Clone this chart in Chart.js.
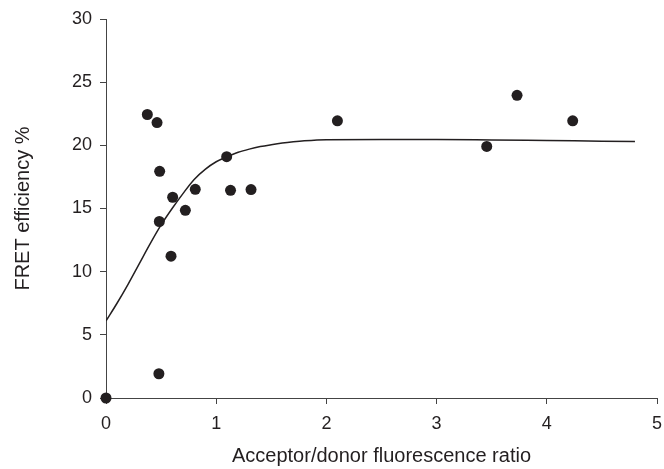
<!DOCTYPE html>
<html>
<head>
<meta charset="utf-8">
<script src="https://cdn.jsdelivr.net/npm/chart.js@4/dist/chart.umd.min.js"></script>
<style>
  body { margin: 0; background: #fff; }
  #wrap { width: 664px; height: 469px; }
</style>
</head>
<body>
<div id="wrap"><canvas id="fretChart" width="664" height="469"></canvas></div>
<script>
// measured points (acceptor/donor ratio vs FRET efficiency)
const ratioX = [0, 0.375, 0.463, 0.487, 0.484, 0.48, 0.59, 0.605, 0.72, 0.81, 1.095, 1.13, 1.316, 2.10, 3.455, 3.73, 4.235];
const fretY = [0, 22.44, 21.8, 17.94, 13.97, 1.92, 11.23, 15.89, 14.86, 16.52, 19.1, 16.44, 16.5, 21.94, 19.91, 23.96, 21.94];

// fitted curve
const fitX = [0, 0.1, 0.2, 0.3, 0.4, 0.5, 0.6, 0.7, 0.8, 0.9, 1.0, 1.1, 1.2, 1.3, 1.4, 1.5, 1.6, 1.7, 1.8, 2.0, 2.5, 3.0, 3.5, 4.0, 4.5, 4.8];
const fitY = [6.1, 7.5, 9.0, 10.6, 12.2, 13.7, 15.0, 16.2, 17.3, 18.1, 18.7, 19.1, 19.45, 19.7, 19.9, 20.05, 20.18, 20.28, 20.36, 20.45, 20.47, 20.47, 20.43, 20.38, 20.33, 20.3];

const xTicks = [0, 1, 2, 3, 4, 5];
const yTicks = [0, 5, 10, 15, 20, 25, 30];

const ink = "#231f20";
const axisColor = "#444";
const font = "'Liberation Sans', Arial, sans-serif";

const ctx = document.getElementById("fretChart").getContext("2d");
const fretChart = new Chart(ctx, {
  type: "scatter",
  data: {
    datasets: [
      {
        label: "data",
        data: ratioX.map((x, i) => ({ x: x, y: fretY[i] })),
        backgroundColor: ink,
        borderColor: ink,
        pointRadius: 5.5,
        pointBorderWidth: 0,
        clip: false,
      },
      {
        label: "fit",
        data: fitX.map((x, i) => ({ x: x, y: fitY[i] })),
        showLine: true,
        borderColor: ink,
        borderWidth: 1.5,
        pointRadius: 0,
        cubicInterpolationMode: "monotone",
        fill: false,
      },
    ],
  },
  options: {
    responsive: false,
    animation: false,
    layout: { padding: { left: 0, right: 7, top: 19, bottom: 0 } },
    plugins: { legend: { display: false }, tooltip: { enabled: false } },
    scales: {
      x: {
        type: "linear",
        min: 0,
        max: 5,
        afterBuildTicks: (s) => { s.ticks = xTicks.map((v) => ({ value: v })); },
        afterFit: (s) => { s.height = 71; s.paddingLeft = 0; s.paddingRight = 0; },
        grid: { drawOnChartArea: false, drawTicks: true, tickLength: 6, color: axisColor },
        border: { color: axisColor, width: 1 },
        ticks: { color: ink, font: { family: font, size: 18 }, padding: 9 },
        title: {
          display: true,
          text: "Acceptor/donor fluorescence ratio",
          color: ink,
          font: { family: font, size: 20 },
          padding: { top: 0, bottom: 1 },
        },
      },
      y: {
        type: "linear",
        min: 0,
        max: 30,
        afterBuildTicks: (s) => { s.ticks = yTicks.map((v) => ({ value: v })); },
        afterFit: (s) => { s.width = 106; s.paddingTop = 0; s.paddingBottom = 0; },
        grid: { drawOnChartArea: false, drawTicks: true, tickLength: 6, color: axisColor },
        border: { color: axisColor, width: 1 },
        ticks: { color: ink, font: { family: font, size: 18 }, padding: 8 },
        title: {
          display: true,
          text: "FRET efficiency %",
          color: ink,
          font: { family: font, size: 20 },
          padding: { top: 11, bottom: 0 },
        },
      },
    },
  },
});
</script>
</body>
</html>
